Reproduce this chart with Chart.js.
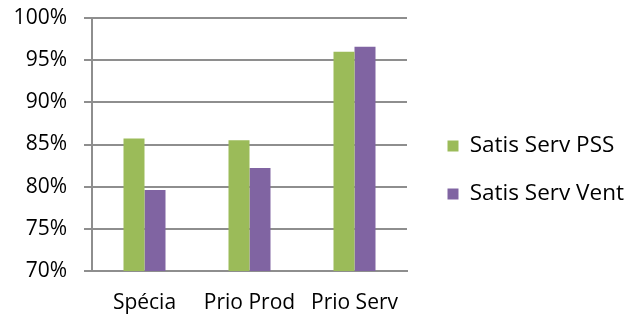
<!DOCTYPE html>
<html>
<head>
<meta charset="utf-8">
<script src="https://cdn.jsdelivr.net/npm/chart.js@4/dist/chart.umd.min.js"></script>
<style>
    html, body { margin: 0; padding: 0; background: #fff; overflow: hidden; }
    #wrap { width: 624px; height: 322px; position: relative; }
</style>
</head>
<body>
<div id="wrap"><canvas id="satisChart"></canvas></div>
<script>
'use strict'

let categories = ['Spécia', 'Prio Prod', 'Prio Serv'];
let satisPss = [85.7, 85.5, 96.0];
let satisVente = [79.6, 82.2, 96.6];
let seriesNames = ['Satis Serv PSS', 'Satis Serv Vente'];
let yTicks = [70, 75, 80, 85, 90, 95, 100];

const gridGrey = '#8e8e8e';
const font = { family: 'Open Sans', size: 21 };
const legendFont = { family: 'Open Sans', size: 22.5 };

window.onload = function () {
    const data = {
        labels: categories,
        datasets: [
            {
                label: seriesNames[0],
                data: satisPss,
                backgroundColor: '#9bbb59'
            },
            {
                label: seriesNames[1],
                data: satisVente,
                backgroundColor: '#8064a2'
            }
        ]
    };

    const config = {
        type: 'bar',
        data: data,
        options: {
            responsive: true,
            maintainAspectRatio: false,
            animation: false,
            layout: { padding: { top: 18, bottom: 0 } },
            datasets: {
                bar: { barPercentage: 1, categoryPercentage: 0.4 }
            },
            plugins: {
                tooltip: { enabled: false },
                legend: {
                    position: 'right',
                    maxWidth: 202,
                    maxHeight: 286,
                    labels: {
                        boxWidth: 11,
                        boxHeight: 11,
                        padding: 25.5,
                        color: '#000',
                        font: legendFont
                    }
                }
            },
            scales: {
                x: {
                    grid: { display: false, drawTicks: false },
                    border: { color: gridGrey, width: 2 },
                    ticks: { color: '#000', font: font, padding: 19, maxRotation: 0 },
                    afterFit: scale => { scale.height = 51; }
                },
                y: {
                    min: yTicks[0],
                    max: yTicks[yTicks.length - 1],
                    afterBuildTicks: scale => { scale.ticks = yTicks.map(v => ({ value: v })); },
                    afterFit: scale => {
                        scale.width = 92;
                        scale.paddingTop = 0;
                        scale.paddingBottom = 0;
                    },
                    grid: { color: gridGrey, lineWidth: 2, tickLength: 8 },
                    border: { color: gridGrey, width: 2 },
                    ticks: {
                        color: '#000',
                        font: font,
                        padding: 17,
                        callback: v => v + '%'
                    }
                },
                // empty axis that keeps a gap between the plot and the legend
                gap: {
                    position: 'right',
                    grid: { display: false },
                    border: { display: false },
                    ticks: { display: false },
                    afterFit: scale => { scale.width = 15; }
                }
            }
        }
    };

    new Chart(document.getElementById('satisChart'), config);
};
</script>
</body>
</html>
